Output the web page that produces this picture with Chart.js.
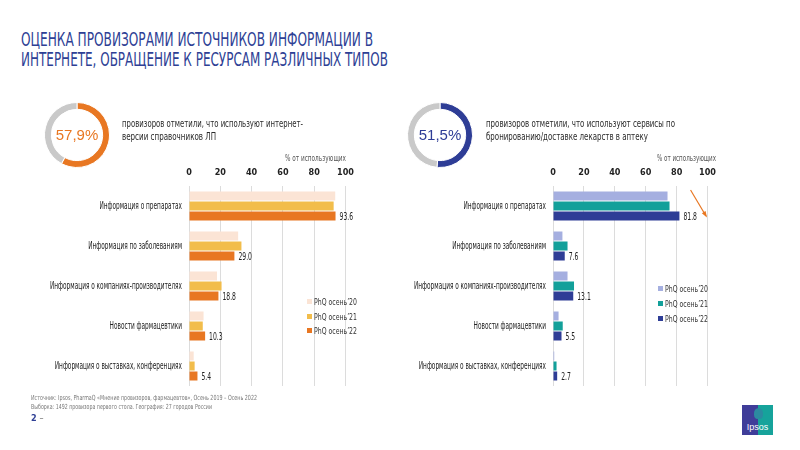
<!DOCTYPE html>
<html lang="ru">
<head>
<meta charset="utf-8">
<script src="https://cdn.jsdelivr.net/npm/chart.js@4"></script>
<style>
  body { margin: 0; background: #fff; }
  #page { position: relative; width: 800px; height: 450px; overflow: hidden; font-family: "Liberation Sans Narrow", "DejaVu Sans Condensed", "Roboto", sans-serif; color: #333; }
  .abs { position: absolute; }
  .fit { white-space: nowrap; transform-origin: 0 50%; display: inline-block; }
  .title { left: 21px; color: #2e3f95; font-size: 19.5px; line-height: 20px; }
  .note { font-size: 11px; line-height: 13px; color: #2a2a2a; }
  .unit { font-size: 8.5px; color: #555; }
  .pct { font-family: "Liberation Sans", Arial, sans-serif; font-size: 15px; width: 66px; text-align: center; }
  .leg { font-size: 9px; color: #333; line-height: 10px; }
  .leg i { display: inline-block; width: 5px; height: 5px; margin-right: 2px; vertical-align: 1px; }
  .foot { font-size: 7px; color: #777; line-height: 9px; left: 31px; }
</style>
</head>
<body>
<div id="page">
  <div class="abs title" style="top:30px"><span class="fit" data-w="352">ОЦЕНКА ПРОВИЗОРАМИ ИСТОЧНИКОВ ИНФОРМАЦИИ В</span></div>
  <div class="abs title" style="top:50px"><span class="fit" data-w="367">ИНТЕРНЕТЕ, ОБРАЩЕНИЕ К РЕСУРСАМ РАЗЛИЧНЫХ ТИПОВ</span></div>

  <div class="abs" style="left:44px;top:102px;width:66px;height:66px"><canvas id="donutL"></canvas></div>
  <div class="abs pct" style="left:44px;top:126px;color:#e87722">57,9%</div>
  <div class="abs note" style="left:122px;top:117px"><span class="fit" data-w="181">провизоров отметили, что используют интернет-</span></div>
  <div class="abs note" style="left:122px;top:130px"><span class="fit" data-w="94">версии справочников ЛП</span></div>
  <div class="abs unit" style="left:285px;top:153px"><span class="fit" data-w="61">% от использующих</span></div>

  <div class="abs" style="left:407px;top:102px;width:66px;height:66px"><canvas id="donutR"></canvas></div>
  <div class="abs pct" style="left:407px;top:126px;color:#2e3d96">51,5%</div>
  <div class="abs note" style="left:486px;top:117px"><span class="fit" data-w="189">провизоров отметили, что используют сервисы по</span></div>
  <div class="abs note" style="left:486px;top:130px"><span class="fit" data-w="162">бронированию/доставке лекарств в аптеку</span></div>
  <div class="abs unit" style="left:657px;top:153px"><span class="fit" data-w="59">% от использующих</span></div>

  <div class="abs" style="left:0;top:160px;width:362px;height:232px"><canvas id="barL"></canvas></div>
  <div class="abs" style="left:363px;top:160px;width:361px;height:232px"><canvas id="barR"></canvas></div>

  <div class="abs leg" id="legL" style="left:307px;top:297px"></div>
  <div class="abs leg" id="legR" style="left:658px;top:284px"></div>

  <div class="abs foot" style="top:394px"><span class="fit" data-w="226">Источник: Ipsos, PharmaQ «Мнение провизоров, фармацевтов», Осень 2019 – Осень 2022</span></div>
  <div class="abs foot" style="top:403px"><span class="fit" data-w="181">Выборка: 1492 провизора первого стола. География: 27 городов России</span></div>
  <div class="abs" style="left:31px;top:413px;font-size:9px;font-weight:bold;color:#2e3f95">2 <span style="font-weight:normal;color:#666">–</span></div>

  <div class="abs" style="left:742px;top:405px;width:31px;height:30px;overflow:hidden">
    <div class="abs" style="left:0;top:0;width:16px;height:30px;background:#3f3d99"></div>
    <div class="abs" style="left:16px;top:0;width:15px;height:30px;background:#16a39b"></div>
    <div class="abs" style="left:12px;top:3px;width:9px;height:11px;border-radius:50% 50% 40% 40%;background:#2c8aa0"></div>
    <div class="abs" style="left:0;top:17px;width:31px;text-align:center;color:#fff;font-family:'Liberation Sans',Arial,sans-serif;font-size:9px">Ipsos</div>
  </div>
</div>
<script>
// categories and series
const categories = [
  "Информация о препаратах",
  "Информация по заболеваниям",
  "Информация о компаниях-производителях",
  "Новости фармацевтики",
  "Информация о выставках, конференциях"
];
const waveLabels = ["PhQ осень’20", "PhQ осень’21", "PhQ осень’22"];
const xTicks = [0, 20, 40, 60, 80, 100];

// left: интернет-версии справочников
const refs20 = [93.4, 31.4, 17.9, 9.3, 3.0];
const refs21 = [92.4, 33.5, 20.8, 8.8, 3.6];
const refs22 = [93.6, 29.0, 18.8, 10.3, 5.4];
const refsShare = 57.9;

// right: сервисы бронирования/доставки
const serv20 = [74.1, 6.1, 9.4, 3.6, 0.8];
const serv21 = [75.4, 9.4, 13.6, 6.3, 2.3];
const serv22 = [81.8, 7.6, 13.1, 5.5, 2.7];
const servShare = 51.5;

const orangeColors = ["#fbe4d5", "#f2bd4b", "#e87722"];
const blueColors = ["#a5afe0", "#13a09a", "#2e3d96"];

const labelFont = '"Liberation Sans Narrow", "DejaVu Sans Condensed", "Roboto", sans-serif';

function buildLegend(id, colors) {
  document.getElementById(id).innerHTML = waveLabels.map((t, i) =>
    `<div style="height:${id === "legL" ? 14.5 : 15}px"><i style="background:${colors[i]}"></i><span class="fit" data-w="43">${t}</span></div>`).join("");
}
buildLegend("legL", orangeColors);
buildLegend("legR", blueColors);

// fit condensed text blocks to their widths
document.querySelectorAll(".fit").forEach(el => {
  const w = el.getBoundingClientRect().width;
  el.style.transform = "scaleX(" + (el.dataset.w / w) + ")";
});

// horizontal squeeze so the canvas text looks condensed like the original
function getSqueeze(ctx) {
  ctx.save();
  ctx.font = "500 10px " + labelFont;
  const k = Math.min(1, 132 / ctx.measureText(categories[2]).width);
  ctx.restore();
  return k;
}

// category labels and values of the latest wave
const condensedText = {
  id: "condensedText",
  afterDatasetsDraw(chart) {
    const ctx = chart.ctx;
    const k = getSqueeze(ctx);
    const y = chart.scales.y;
    ctx.save();
    ctx.fillStyle = "#222";
    ctx.textBaseline = "middle";
    ctx.font = "500 10px " + labelFont;
    ctx.textAlign = "right";
    categories.forEach((c, i) => {
      ctx.save();
      ctx.translate(chart.chartArea.left - 7, y.getPixelForTick(i));
      ctx.scale(k, 1);
      ctx.fillText(c, 0, 0);
      ctx.restore();
    });
    ctx.textAlign = "left";
    ctx.font = "10.5px " + labelFont;
    const meta = chart.getDatasetMeta(2);
    meta.data.forEach((bar, i) => {
      ctx.save();
      ctx.translate(bar.x + 4, bar.y + 1);
      ctx.scale(k, 1);
      ctx.fillText(chart.data.datasets[2].data[i].toFixed(1), 0, 0);
      ctx.restore();
    });
    ctx.restore();
  }
};

// orange arrow pointing at the top bar (right chart)
const arrowNote = {
  id: "arrowNote",
  afterDraw(chart) {
    if (chart.canvas.id !== "barR") return;
    const x = chart.scales.x, y = chart.scales.y;
    const yc = y.getPixelForValue(0);
    const x1 = x.getPixelForValue(89), y1 = yc - 16;
    const x2 = x.getPixelForValue(99), y2 = yc + 10;
    const ctx = chart.ctx;
    ctx.save();
    ctx.strokeStyle = "#e87722";
    ctx.fillStyle = "#e87722";
    ctx.lineWidth = 1.2;
    ctx.beginPath(); ctx.moveTo(x1, y1); ctx.lineTo(x2, y2); ctx.stroke();
    const a = Math.atan2(y2 - y1, x2 - x1);
    ctx.beginPath();
    ctx.moveTo(x2 + 1, y2 + 1.5);
    ctx.lineTo(x2 - 5 * Math.cos(a - 0.45), y2 - 5 * Math.sin(a - 0.45));
    ctx.lineTo(x2 - 5 * Math.cos(a + 0.45), y2 - 5 * Math.sin(a + 0.45));
    ctx.closePath(); ctx.fill();
    ctx.restore();
  }
};

function makeBars(id, s20, s21, s22, colors, yWidth) {
  new Chart(document.getElementById(id), {
    type: "bar",
    data: {
      labels: categories,
      datasets: [s20, s21, s22].map((d, i) => ({
        label: waveLabels[i],
        data: d,
        backgroundColor: colors[i],
        categoryPercentage: 0.75,
        barPercentage: 0.9
      }))
    },
    options: {
      indexAxis: "y",
      responsive: true,
      maintainAspectRatio: false,
      animation: false,
      layout: { padding: { right: id === "barL" ? 14 : 13, bottom: 6 } },
      plugins: { legend: { display: false }, tooltip: { enabled: false } },
      scales: {
        x: {
          position: "top",
          min: 0, max: 100,
          afterBuildTicks: s => { s.ticks = xTicks.map(v => ({ value: v })); },
          afterFit: s => { s.height = 26; },
          grid: { color: "#dcdcdc", lineWidth: 1, drawTicks: false },
          border: { display: false },
          ticks: { padding: 8, color: "#222", font: { family: labelFont, size: 9, weight: "bold" } }
        },
        y: {
          afterFit: s => { s.width = yWidth; },
          grid: { display: false },
          border: { display: false },
          ticks: { display: false }
        }
      }
    },
    plugins: [condensedText, arrowNote]
  });
}

makeBars("barL", refs20, refs21, refs22, orangeColors, 189);
makeBars("barR", serv20, serv21, serv22, blueColors, 190);

function makeDonut(id, share, color) {
  new Chart(document.getElementById(id), {
    type: "doughnut",
    data: {
      datasets: [{
        data: [share, 100 - share],
        backgroundColor: [color, "#c9c9c9"],
        borderColor: "#fff",
        borderWidth: 1
      }]
    },
    options: {
      responsive: true,
      maintainAspectRatio: false,
      animation: false,
      cutout: "79%",
      plugins: { legend: { display: false }, tooltip: { enabled: false } }
    }
  });
}
makeDonut("donutL", refsShare, "#e87722");
makeDonut("donutR", servShare, "#2e3d96");
</script>
</body>
</html>
